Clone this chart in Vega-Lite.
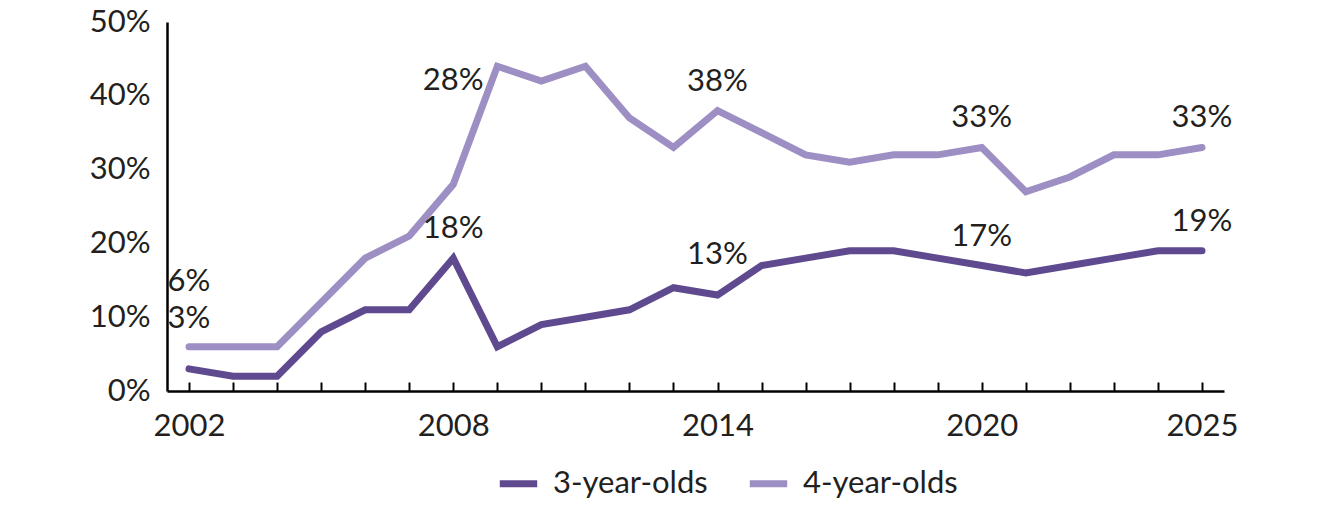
{
  "$schema": "https://vega.github.io/schema/vega-lite/v6.json",
  "autosize": {"type": "none"},
  "padding": {"left": 167, "top": 22, "right": 110, "bottom": 130},
  "width": 1057,
  "height": 369,
  "background": "white",
  "config": {
    "font": "Lato",
    "view": {"stroke": null},
    "text": {"font": "Lato", "fontSize": 31, "color": "#231F20"}
  },
  "data": {
    "values": [
      {"year": 2002, "series": "3-year-olds", "value": 0.03},
      {"year": 2003, "series": "3-year-olds", "value": 0.02},
      {"year": 2004, "series": "3-year-olds", "value": 0.02},
      {"year": 2005, "series": "3-year-olds", "value": 0.08},
      {"year": 2006, "series": "3-year-olds", "value": 0.11},
      {"year": 2007, "series": "3-year-olds", "value": 0.11},
      {"year": 2008, "series": "3-year-olds", "value": 0.18},
      {"year": 2009, "series": "3-year-olds", "value": 0.06},
      {"year": 2010, "series": "3-year-olds", "value": 0.09},
      {"year": 2011, "series": "3-year-olds", "value": 0.10},
      {"year": 2012, "series": "3-year-olds", "value": 0.11},
      {"year": 2013, "series": "3-year-olds", "value": 0.14},
      {"year": 2014, "series": "3-year-olds", "value": 0.13},
      {"year": 2015, "series": "3-year-olds", "value": 0.17},
      {"year": 2016, "series": "3-year-olds", "value": 0.18},
      {"year": 2017, "series": "3-year-olds", "value": 0.19},
      {"year": 2018, "series": "3-year-olds", "value": 0.19},
      {"year": 2019, "series": "3-year-olds", "value": 0.18},
      {"year": 2020, "series": "3-year-olds", "value": 0.17},
      {"year": 2021, "series": "3-year-olds", "value": 0.16},
      {"year": 2022, "series": "3-year-olds", "value": 0.17},
      {"year": 2023, "series": "3-year-olds", "value": 0.18},
      {"year": 2024, "series": "3-year-olds", "value": 0.19},
      {"year": 2025, "series": "3-year-olds", "value": 0.19},
      {"year": 2002, "series": "4-year-olds", "value": 0.06},
      {"year": 2003, "series": "4-year-olds", "value": 0.06},
      {"year": 2004, "series": "4-year-olds", "value": 0.06},
      {"year": 2005, "series": "4-year-olds", "value": 0.12},
      {"year": 2006, "series": "4-year-olds", "value": 0.18},
      {"year": 2007, "series": "4-year-olds", "value": 0.21},
      {"year": 2008, "series": "4-year-olds", "value": 0.28},
      {"year": 2009, "series": "4-year-olds", "value": 0.44},
      {"year": 2010, "series": "4-year-olds", "value": 0.42},
      {"year": 2011, "series": "4-year-olds", "value": 0.44},
      {"year": 2012, "series": "4-year-olds", "value": 0.37},
      {"year": 2013, "series": "4-year-olds", "value": 0.33},
      {"year": 2014, "series": "4-year-olds", "value": 0.38},
      {"year": 2015, "series": "4-year-olds", "value": 0.35},
      {"year": 2016, "series": "4-year-olds", "value": 0.32},
      {"year": 2017, "series": "4-year-olds", "value": 0.31},
      {"year": 2018, "series": "4-year-olds", "value": 0.32},
      {"year": 2019, "series": "4-year-olds", "value": 0.32},
      {"year": 2020, "series": "4-year-olds", "value": 0.33},
      {"year": 2021, "series": "4-year-olds", "value": 0.27},
      {"year": 2022, "series": "4-year-olds", "value": 0.29},
      {"year": 2023, "series": "4-year-olds", "value": 0.32},
      {"year": 2024, "series": "4-year-olds", "value": 0.32},
      {"year": 2025, "series": "4-year-olds", "value": 0.33}
    ]
  },
  "encoding": {
    "x": {
      "field": "year",
      "type": "quantitative",
      "scale": {"domain": [2001.5, 2025.5], "nice": false, "zero": false},
      "axis": {
        "title": null,
        "values": [2002,2003,2004,2005,2006,2007,2008,2009,2010,2011,2012,2013,2014,2015,2016,2017,2018,2019,2020,2021,2022,2023,2024,2025],
        "labelExpr": "indexof([2002,2008,2014,2020,2025], datum.value) >= 0 ? format(datum.value, 'd') : ''",
        "labelOverlap": false,
        "labelFlush": false,
        "grid": false,
        "domainColor": "#000000",
        "domainWidth": 2.5,
        "tickColor": "#000000",
        "tickWidth": 2,
        "tickSize": -9,
        "labelPadding": 29,
        "labelFont": "Lato",
        "labelFontSize": 31,
        "labelColor": "#231F20"
      }
    },
    "y": {
      "field": "value",
      "type": "quantitative",
      "scale": {"domain": [0, 0.5], "nice": false},
      "axis": {
        "title": null,
        "values": [0, 0.1, 0.2, 0.3, 0.4, 0.5],
        "format": ".0%",
        "grid": false,
        "ticks": false,
        "domainColor": "#000000",
        "domainWidth": 2.5,
        "labelPadding": 17,
        "labelFont": "Lato",
        "labelFontSize": 31,
        "labelColor": "#231F20"
      }
    }
  },
  "layer": [
    {
      "mark": {"type": "line", "strokeWidth": 7, "strokeCap": "round", "strokeJoin": "miter"},
      "encoding": {
        "color": {
          "field": "series",
          "type": "nominal",
          "scale": {"domain": ["3-year-olds", "4-year-olds"], "range": ["#5F4A8F", "#9D8EC3"]},
          "legend": {
            "title": null,
            "orient": "none",
            "direction": "horizontal",
            "legendX": 329,
            "legendY": 439,
            "symbolType": "stroke",
            "symbolSize": 1400,
            "symbolStrokeWidth": 7,
            "labelFont": "Lato",
            "labelFontSize": 31,
            "labelColor": "#231F20",
            "labelOffset": 12,
            "columnPadding": 27
          }
        }
      }
    },
    {
      "transform": [{"filter": "(datum.year == 2008 && datum.series == '3-year-olds') || datum.year == 2020 || datum.year == 2025 || (datum.year == 2014 && datum.series == '4-year-olds')"}],
      "mark": {"type": "text", "dy": -29},
      "encoding": {"text": {"field": "value", "type": "quantitative", "format": ".0%"}}
    },
    {
      "transform": [{"filter": "datum.year == 2014 && datum.series == '3-year-olds'"}],
      "mark": {"type": "text", "dy": -40},
      "encoding": {"text": {"field": "value", "type": "quantitative", "format": ".0%"}}
    },
    {
      "transform": [{"filter": "datum.year == 2008 && datum.series == '4-year-olds'"}],
      "mark": {"type": "text", "dy": -103},
      "encoding": {"text": {"field": "value", "type": "quantitative", "format": ".0%"}}
    },
    {
      "transform": [{"filter": "datum.year == 2002 && datum.series == '4-year-olds'"}],
      "mark": {"type": "text", "dy": -65},
      "encoding": {"text": {"field": "value", "type": "quantitative", "format": ".0%"}}
    },
    {
      "transform": [{"filter": "datum.year == 2002 && datum.series == '3-year-olds'"}],
      "mark": {"type": "text", "dy": -50},
      "encoding": {"text": {"field": "value", "type": "quantitative", "format": ".0%"}}
    }
  ]
}
